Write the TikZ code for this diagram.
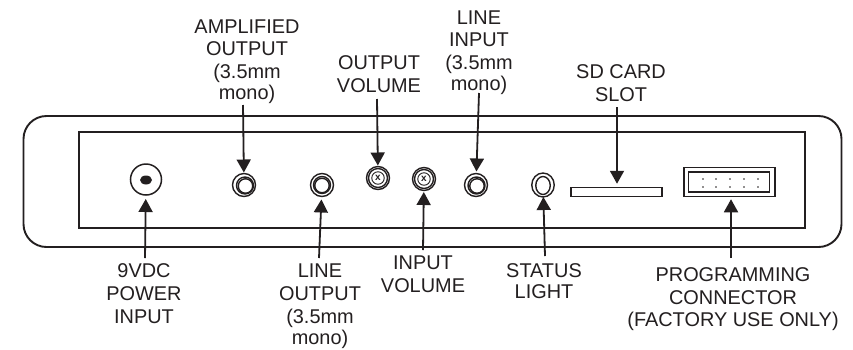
\documentclass[tikz,border=0pt]{standalone}
\usepackage{fontspec}
\setmainfont{Liberation Sans}
\usetikzlibrary{arrows.meta,shapes.geometric}
\definecolor{ink}{HTML}{231F20}
\tikzset{
  boxshape/.style={draw=ink,line width=1.9pt,rectangle,inner sep=0pt,outer sep=0pt},
  ring/.style={draw=ink,line width=1.4pt,circle,inner sep=0pt,outer sep=0pt},
  oval/.style={draw=ink,line width=1.4pt,ellipse,inner sep=0pt,outer sep=0pt},
  lbl/.style={text=ink,align=center,inner sep=0pt,outer sep=0pt,anchor=north,
    font=\fontsize{19.9}{22.3}\selectfont},
  conn/.style={draw=ink,line width=1.8pt,-{Triangle[length=13pt,width=14pt]}},
}
\begin{document}
\begin{tikzpicture}[x=1pt,y=-1pt]
\useasboundingbox (0,0) rectangle (853,349);
\fill[white] (0,0) rectangle (853,349);
% enclosure
\node[boxshape,rounded corners=23pt,minimum width=818pt,minimum height=131pt] (case) at (432.5,181.5) {};
\node[boxshape,minimum width=726pt,minimum height=96pt] (panel) at (442,180) {};
% power jack
\node[ring,line width=1.5pt,minimum size=31pt] (power) at (146,179.5) {};
\fill[ink] (146,180) ellipse [x radius=6pt,y radius=4.5pt];
% audio jacks
\node[ring,minimum size=23pt] (ampout) at (244,185) {};
\node[ring,minimum size=17pt] (ampoutb) at (245,185.5) {};
\node[ring,minimum size=14.5pt] (ampoutc) at (245.5,186) {};
\node[ring,minimum size=23pt] (lineout) at (322,185) {};
\node[ring,minimum size=17pt] (lineoutb) at (322,185) {};
\node[ring,minimum size=14.5pt] (lineoutc) at (322,185.5) {};
\node[ring,minimum size=23pt] (linein) at (476,185) {};
\node[ring,minimum size=17pt] (lineinb) at (476.5,185.5) {};
\node[ring,minimum size=14.5pt] (lineinc) at (477,186) {};
% status light
\node[oval,minimum width=22.5pt,minimum height=24pt] (status) at (543,185) {};
\node[oval,minimum width=14.5pt,minimum height=18pt] (statusb) at (543,185.5) {};
% volume knobs
\node[ring,minimum size=23pt] (outvol) at (378,178) {};
\node[ring,minimum size=19pt] (outvolb) at (378,178) {};
\node[ring,line width=.9pt,minimum size=12.5pt,font=\fontsize{10}{10}\selectfont\bfseries,text=ink] (outvolc) at (378,178) {x};
\node[ring,minimum size=23pt] (invol) at (424,179) {};
\node[ring,minimum size=19pt] (involb) at (424,179) {};
\node[ring,line width=.9pt,minimum size=12.5pt,font=\fontsize{10}{10}\selectfont\bfseries,text=ink] (involc) at (424,179) {x};
% SD slot
\node[boxshape,line width=1.4pt,minimum width=91pt,minimum height=8.5pt] (sd) at (616.5,192) {};
% programming connector
\node[boxshape,line width=1.3pt,minimum width=91pt,minimum height=28.5pt] (prog) at (729.5,182) {};
\node[boxshape,line width=1.6pt,minimum width=81pt,minimum height=20.5pt] (progb) at (729,182) {};
\foreach \px in {703,716,730,744,758}
  \foreach \py in {179,187}
    \fill[ink] (\px,\py) circle (.85pt);
% labels
\node[lbl] (tamp) at (247,20) {AMPLIFIED\\OUTPUT\\(3.5mm\\[-1pt]mono)};
\node[lbl] (tovol) at (379,56) {OUTPUT\\VOLUME};
\node[lbl] (tlinein) at (479,11) {LINE\\INPUT\\(3.5mm\\[-1pt]mono)};
\node[lbl] (tsd) at (621,65) {SD CARD\\SLOT};
\node[lbl] (tpow) at (144,264) {9VDC\\POWER\\[1pt]INPUT};
\node[lbl] (tlineout) at (320,264) {LINE\\OUTPUT\\[1pt](3.5mm\\[-1pt]mono)};
\node[lbl] (tivol) at (423,256) {INPUT\\VOLUME};
\node[lbl] (tstat) at (544,264) {STATUS\\[-2pt]LIGHT};
\node[lbl] (tprog) at (733,268) {PROGRAMMING\\CONNECTOR\\(FACTORY USE ONLY)};
% connector free ends
\coordinate (a1) at (243,105);
\coordinate (a2) at (377,99);
\coordinate (a3) at (479,93);
\coordinate (a4) at (617,107);
\coordinate (b1) at (145,258);
\coordinate (b2) at (319,258);
\coordinate (b3) at (423,250);
\coordinate (b4) at (545,256);
\coordinate (b5) at (731,258);
% connectors
\draw[conn,shorten >=1pt] (a1) -- (ampout);
\draw[conn,shorten >=1pt] (a2) -- (outvol);
\draw[conn,shorten >=2pt] (a3) -- (linein);
\draw[conn,shorten >=4pt] (a4) -- (sd.north -| a4);
\draw[conn,shorten >=4pt] (b1) -- (power);
\draw[conn,shorten >=3pt] (b2) -- (lineout);
\draw[conn,shorten >=1.5pt] (b3) -- (invol);
\draw[conn] (b4) -- (status);
\draw[conn,shorten >=3pt] (b5) -- (prog.south -| b5);
\end{tikzpicture}
\end{document}
